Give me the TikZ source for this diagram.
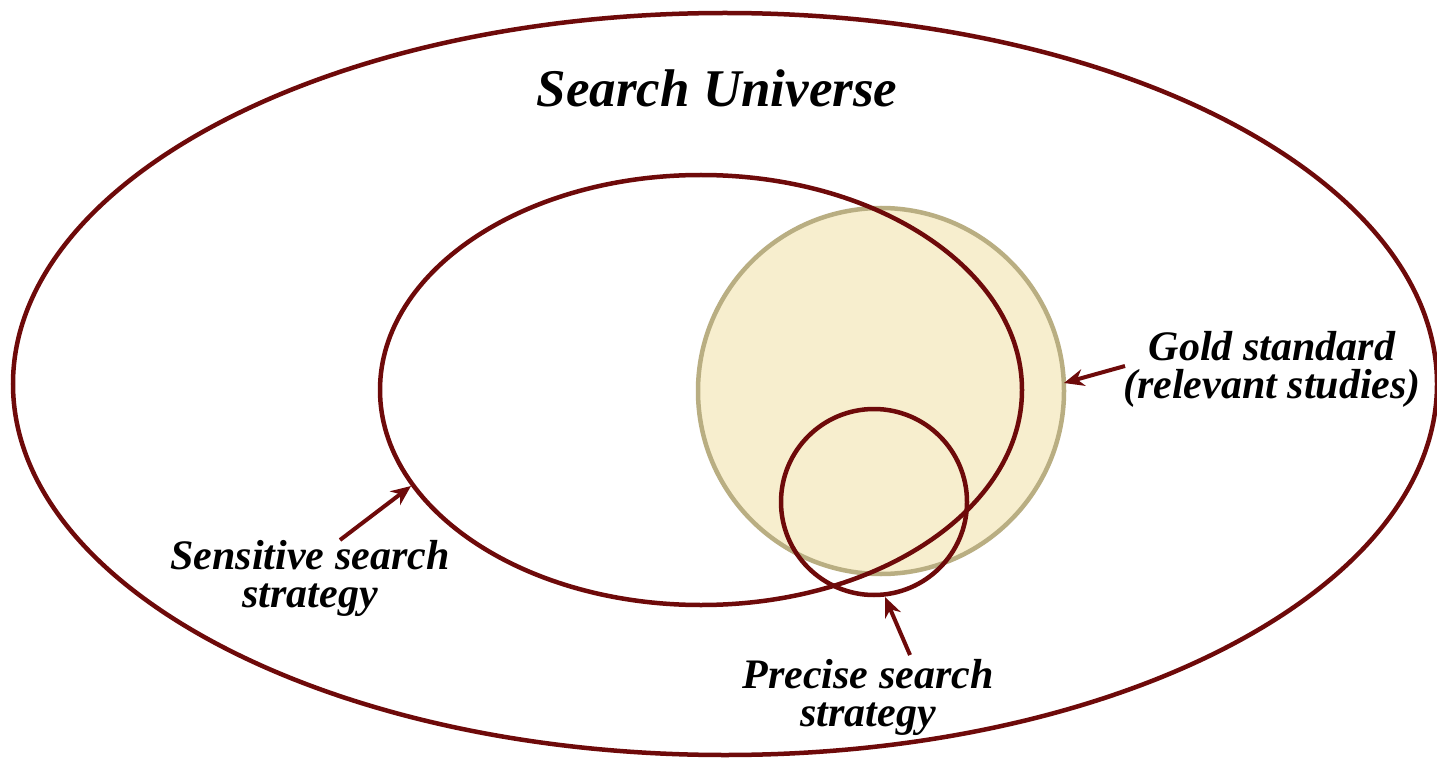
\documentclass[tikz,border=0pt]{standalone}
\usepackage{fontspec}
\setmainfont{Liberation Serif}
\usetikzlibrary{arrows.meta}
\definecolor{maroon}{HTML}{6E0A0A}
\definecolor{goldfill}{HTML}{F7EECE}
\definecolor{golddraw}{HTML}{B9AE82}
\begin{document}
\begin{tikzpicture}[x=1pt,y=-1pt,
  ring/.style={draw=maroon,line width=4.5pt},
  pointer/.style={draw=maroon,line width=4pt,-{Stealth[length=20pt,width=17pt]}},
  lbl/.style={font=\fontsize{42}{38}\selectfont\bfseries\itshape,align=center,inner sep=0pt}]
\useasboundingbox (0,0) rectangle (1437,759);
\fill[white] (0,0) rectangle (1437,759);
\draw[ring] (725,384) ellipse [x radius=712,y radius=371];
\draw[fill=goldfill,draw=golddraw,line width=4.5pt] (881,391) circle [radius=183];
\draw[ring] (701,390) ellipse [x radius=321,y radius=215];
\draw[ring] (874,502) circle [radius=93];
\node[lbl,font=\fontsize{53}{60}\selectfont\bfseries\itshape] (title) at (717,88) {Search Universe};
\node[lbl] (gold) at (1272,369) {Gold standard\\(relevant studies)};
\node[lbl] (sens) at (310,578) {Sensitive search\\strategy};
\node[lbl] (prec) at (868,697) {Precise search\\strategy};
\coordinate (goldtail) at (1125,366);
\coordinate (goldhead) at (1064,383);
\coordinate (senstail) at (340,540);
\coordinate (senshead) at (411,486);
\coordinate (prectail) at (910,655);
\coordinate (prechead) at (885,597);
\draw[pointer] (goldtail) -- (goldhead);
\draw[pointer] (senstail) -- (senshead);
\draw[pointer] (prectail) -- (prechead);
\end{tikzpicture}
\end{document}
